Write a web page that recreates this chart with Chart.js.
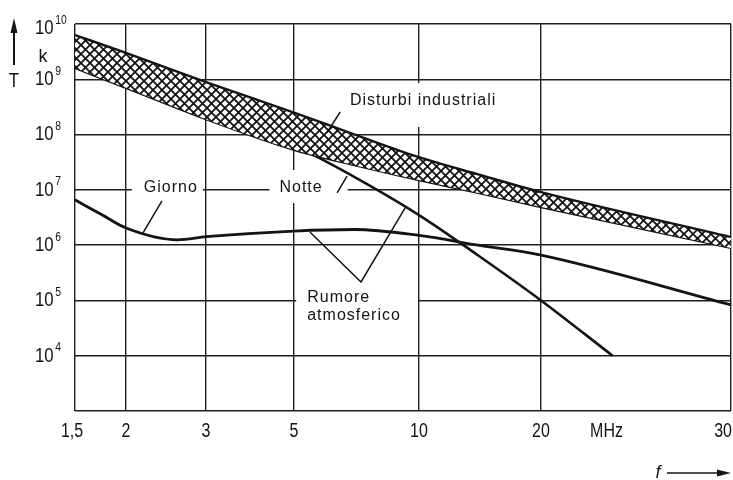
<!DOCTYPE html>
<html>
<head>
<meta charset="utf-8">
<script src="https://cdn.jsdelivr.net/npm/chart.js@4.4.1/dist/chart.umd.min.js"></script>
<style>
  html, body { margin: 0; padding: 0; background: #fff; }
  #wrap { width: 733px; height: 480px; }
</style>
</head>
<body>
<div id="wrap"><canvas id="noiseChart" width="733" height="480"></canvas></div>
<script>
// frequency axis (MHz) and temperature decades (K)
const freqTicks = [1.5, 2, 3, 5, 10, 20, 30];
const freqLabels = ['1,5', '2', '3', '5', '10', '20', '30'];
const freqGridSpans = [51, 80, 88, 125, 122, 190]; // width of each grid column
const tempExps = [3, 4, 5, 6, 7, 8, 9, 10];

// disturbi industriali, upper and lower edge of the band
const industFreq = [1.5, 2, 3, 5, 7, 10, 14, 20, 30];
const industHigh = [6.3e9, 3.0e9, 8.9e8, 2.5e8, 1.0e8, 3.9e7, 1.9e7, 9.1e6, 1.4e6];
const industLow = [1.6e9, 7.0e8, 1.9e8, 5.3e7, 2.8e7, 1.5e7, 8.8e6, 4.9e6, 8.9e5];

// rumore atmosferico - notte
const notteFreq = [1.5, 2, 3, 4, 5, 7, 10, 14, 20, 23.3];
const notteT = [2.0e9, 1.0e9, 3.4e8, 1.43e8, 6.5e7, 1.7e7, 3.5e6, 6.5e5, 1.0e5, 1.0e4];

// rumore atmosferico - giorno
const giornoFreq = [1.5, 1.75, 2, 2.6, 3, 5, 7, 10, 14, 20, 30];
const giornoT = [6.6e6, 3.5e6, 2.04e6, 1.25e6, 1.42e6, 1.8e6, 1.92e6, 1.5e6, 1.0e6, 6.6e5, 8.3e4];

// curve labels: anchor in (MHz, K), pad = blank area kept around the text [l, t, r, b]
const curveNotes = [
  { text: ['Disturbi industriali'], f: 6.82, t: 4.05e8, align: 'left', pad: [6, 10, 6, 18] },
  { text: ['Giorno'], f: 2.51, t: 1.08e7, align: 'center', pad: [12, 2, 5, 2] },
  { text: ['Notte'], f: 5.2, t: 1.08e7, align: 'center', pad: [10, 10, 25, 7] },
  { text: ['Rumore', 'atmosferico'], f: 5.38, t: 1.11e5, align: 'left', pad: [11, 0, 17, 0] },
];
const leaders = [
  [[6.46, 2.56e8], [6.0, 1.07e8]],
  [[2.4, 6.3e6], [2.18, 1.66e6]],
  [[6.71, 1.78e7], [6.35, 8.8e6]],
  [[5.46, 1.73e6], [7.25, 2.16e5], [9.26, 4.7e6]],
];

const ink = '#141414';
const sans = '"Liberation Sans", Arial, Helvetica, sans-serif';
const squeeze = 0.8; // condensed look for the axis numbers

// log axis where each column between labelled frequencies has its own width
class StretchedLogScale extends Chart.Scale {
  determineDataLimits() {
    this.min = freqTicks[0];
    this.max = freqTicks[freqTicks.length - 1];
  }
  buildTicks() {
    return freqTicks.map(value => ({ value }));
  }
  getLabelForValue(value) {
    return String(value).replace('.', ',');
  }
  getDecimalForValue(value) {
    const total = freqGridSpans.reduce((a, b) => a + b, 0);
    let acc = 0;
    for (let i = 0; i < freqTicks.length - 1; i++) {
      const a = freqTicks[i], b = freqTicks[i + 1];
      if (value <= b || i === freqTicks.length - 2) {
        const t = Math.log(value / a) / Math.log(b / a);
        return (acc + t * freqGridSpans[i]) / total;
      }
      acc += freqGridSpans[i];
    }
  }
  getPixelForValue(value) {
    return this.getPixelForDecimal(this.getDecimalForValue(value));
  }
  getValueForPixel(pixel) {
    const total = freqGridSpans.reduce((a, b) => a + b, 0);
    let d = this.getDecimalForPixel(pixel) * total;
    for (let i = 0; i < freqTicks.length - 1; i++) {
      const a = freqTicks[i], b = freqTicks[i + 1];
      if (d <= freqGridSpans[i] || i === freqTicks.length - 2) {
        return a * Math.pow(b / a, d / freqGridSpans[i]);
      }
      d -= freqGridSpans[i];
    }
  }
}
StretchedLogScale.id = 'stretchedLog';
StretchedLogScale.defaults = {};
Chart.register(StretchedLogScale);

function crossHatch(target) {
  const size = 9;
  const c = document.createElement('canvas');
  c.width = c.height = size;
  const g = c.getContext('2d');
  g.fillStyle = '#fff';
  g.fillRect(0, 0, size, size);
  g.strokeStyle = ink;
  g.lineWidth = 1.8;
  for (const o of [-size, 0, size]) {
    g.beginPath();
    g.moveTo(o, 0); g.lineTo(o + size, size);
    g.moveTo(o, size); g.lineTo(o + size, 0);
    g.stroke();
  }
  return target.createPattern(c, 'repeat');
}

// draws squeezed text, returns its drawn width
function narrowText(g, text, x, y, align, size) {
  g.save();
  g.font = size + 'px ' + sans;
  const w = g.measureText(text).width * squeeze;
  let left = x;
  if (align === 'center') left = x - w / 2;
  else if (align === 'right') left = x - w;
  g.translate(left, y);
  g.scale(squeeze, 1);
  g.textAlign = 'left';
  g.textBaseline = 'middle';
  g.fillText(text, 0, 0);
  g.restore();
  return w;
}

function noteBox(g, chart, note) {
  const x = chart.scales.x.getPixelForValue(note.f);
  const y = chart.scales.y.getPixelForValue(note.t);
  g.font = '16px ' + sans;
  g.letterSpacing = '1px';
  const w = Math.max(...note.text.map(s => g.measureText(s).width));
  const left = note.align === 'center' ? x - w / 2 : x;
  return { x: left, y, w, top: y - 8, bottom: y + 8 + 18 * (note.text.length - 1) };
}

const annotations = {
  id: 'annotations',
  beforeDatasetsDraw(chart) {
    // open the grid where labels sit
    const g = chart.ctx;
    g.save();
    g.fillStyle = '#fff';
    curveNotes.forEach(note => {
      const b = noteBox(g, chart, note);
      const [pl, pt, pr, pb] = note.pad;
      g.fillRect(b.x - pl, b.top - pt, b.w + pl + pr, b.bottom - b.top + pt + pb);
    });
    g.letterSpacing = '0px';
    g.restore();
  },
  afterDatasetsDraw(chart) {
    const g = chart.ctx;
    const { x: xs, y: ys } = chart.scales;
    g.save();
    g.strokeStyle = ink;
    g.lineWidth = 1.5;
    leaders.forEach(pts => {
      g.beginPath();
      pts.forEach(([f, t], i) => {
        const px = xs.getPixelForValue(f), py = ys.getPixelForValue(t);
        if (i === 0) g.moveTo(px, py); else g.lineTo(px, py);
      });
      g.stroke();
    });
    g.fillStyle = ink;
    g.textBaseline = 'middle';
    g.textAlign = 'left';
    curveNotes.forEach(note => {
      const b = noteBox(g, chart, note);
      note.text.forEach((s, i) => g.fillText(s, b.x, b.y + 18 * i));
    });
    g.letterSpacing = '0px';
    g.restore();
  },
  afterDraw(chart) {
    const g = chart.ctx;
    const { x: xs, y: ys } = chart.scales;
    const area = chart.chartArea;
    g.save();
    g.fillStyle = ink;
    g.strokeStyle = ink;

    // frequency labels
    const ly = area.bottom + 20;
    freqTicks.forEach((f, i) => {
      const px = xs.getPixelForValue(f);
      if (i === 0) narrowText(g, freqLabels[i], px - 3, ly, 'center', 20);
      else if (i === freqTicks.length - 1) narrowText(g, freqLabels[i], px + 1, ly, 'right', 20);
      else narrowText(g, freqLabels[i], px, ly, 'center', 20);
    });
    narrowText(g, 'MHz', xs.getPixelForValue(23), ly, 'center', 20);

    // temperature decades as 10^n
    tempExps.filter(e => e > 3).forEach(e => {
      let py = ys.getPixelForValue(Math.pow(10, e));
      if (e === 10) py += 4;
      const x0 = area.left - 40;
      const w = narrowText(g, '10', x0, py, 'left', 21);
      narrowText(g, String(e), x0 + w + 1.5, py - 8, 'left', 13);
    });

    // T / k with upward arrow
    const ax = area.left - 61;
    g.lineWidth = 2;
    g.beginPath();
    g.moveTo(ax, area.top + 41);
    g.lineTo(ax, area.top + 8);
    g.stroke();
    g.beginPath();
    g.moveTo(ax, area.top - 6);
    g.lineTo(ax - 3.5, area.top + 9);
    g.lineTo(ax + 3.5, area.top + 9);
    g.closePath();
    g.fill();
    g.textAlign = 'center';
    g.textBaseline = 'middle';
    g.font = '18px ' + sans;
    g.fillText('k', area.left - 32, area.top + 33);
    narrowText(g, 'T', ax, area.top + 57, 'center', 21);

    // f with arrow along the frequency axis
    const fy = area.bottom + 62;
    g.font = 'italic 18px ' + sans;
    g.fillText('f', area.right - 73, fy);
    g.lineWidth = 1.6;
    g.beginPath();
    g.moveTo(area.right - 64, fy);
    g.lineTo(area.right - 12, fy);
    g.stroke();
    g.beginPath();
    g.moveTo(area.right, fy);
    g.lineTo(area.right - 14, fy - 3.5);
    g.lineTo(area.right - 14, fy + 3.5);
    g.closePath();
    g.fill();
    g.restore();
  }
};

const canvasEl = document.getElementById('noiseChart');
const hatch = crossHatch(canvasEl.getContext('2d'));

const curveStyle = {
  borderColor: ink,
  pointRadius: 0,
  cubicInterpolationMode: 'monotone',
  fill: false
};
const toPoints = (xs, ys) => xs.map((x, i) => ({ x, y: ys[i] }));

const gridStyle = { color: '#1e1e1e', lineWidth: 1.4, drawTicks: false };

new Chart(canvasEl, {
  type: 'line',
  data: {
    datasets: [
      { label: 'Disturbi industriali', data: toPoints(industFreq, industHigh), ...curveStyle, borderWidth: 2.4, fill: '+1', backgroundColor: hatch },
      { label: 'Disturbi industriali (min)', data: toPoints(industFreq, industLow), ...curveStyle, borderWidth: 2.4 },
      { label: 'Notte', data: toPoints(notteFreq, notteT), ...curveStyle, borderWidth: 2.6 },
      { label: 'Giorno', data: toPoints(giornoFreq, giornoT), ...curveStyle, borderWidth: 2.8 }
    ]
  },
  options: {
    responsive: false,
    animation: false,
    devicePixelRatio: 1,
    events: [],
    layout: { padding: { left: 75, top: 24, right: 2, bottom: 69 } },
    plugins: { legend: { display: false }, tooltip: { enabled: false } },
    scales: {
      x: {
        type: 'stretchedLog',
        position: 'bottom',
        grid: gridStyle,
        border: { display: false },
        ticks: { display: false }
      },
      y: {
        type: 'logarithmic',
        min: 1e3,
        max: 1e10,
        grid: gridStyle,
        border: { display: false },
        ticks: { display: false },
        afterBuildTicks: axis => {
          axis.ticks = tempExps.map(e => ({ value: Math.pow(10, e) }));
        }
      }
    }
  },
  plugins: [annotations]
});
</script>
</body>
</html>
